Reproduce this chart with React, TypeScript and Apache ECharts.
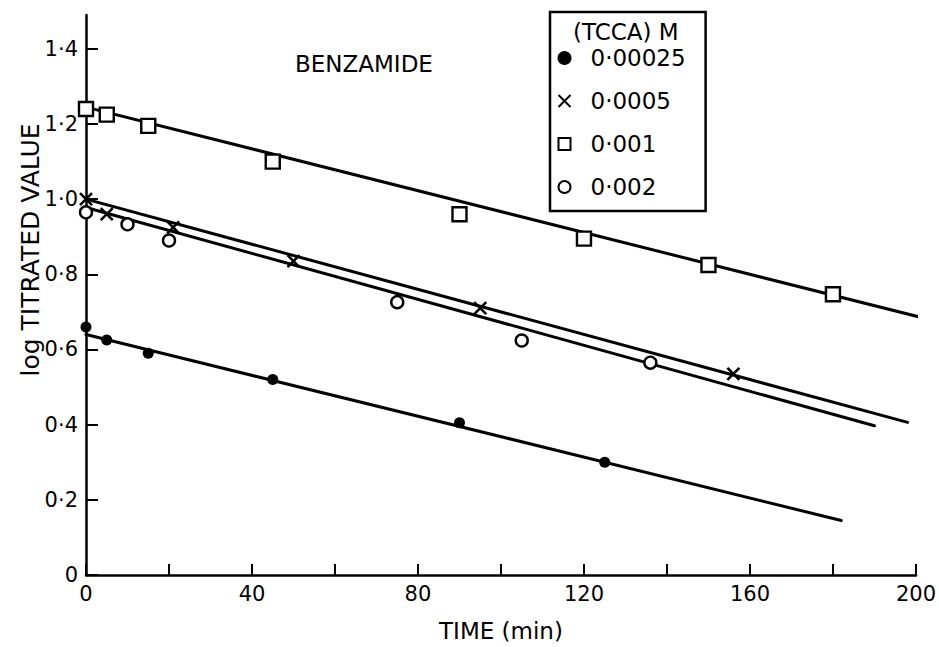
import React, { useEffect, useRef } from "react";
import * as echarts from "echarts";

// ---- data ----
const seriesNames = ["0·00025", "0·0005", "0·001", "0·002"];

const dotTimes = [0, 5, 15, 45, 90, 125];
const dotValues = [0.66, 0.625, 0.59, 0.52, 0.405, 0.3];

const crossTimes = [0, 5, 21, 50, 95, 156];
const crossValues = [1.0, 0.96, 0.925, 0.835, 0.71, 0.535];

const squareTimes = [0, 5, 15, 45, 90, 120, 150, 180];
const squareValues = [1.24, 1.225, 1.195, 1.1, 0.96, 0.895, 0.825, 0.747];

const circleTimes = [0, 10, 20, 75, 105, 136];
const circleValues = [0.965, 0.933, 0.89, 0.726, 0.624, 0.565];

// fitted straight lines: start at t = 0, end at fitEndTimes
const fitStartValues = [0.64, 1.0, 1.245, 0.978];
const fitEndTimes = [182, 198, 201, 190];
const fitEndValues = [0.145, 0.406, 0.686, 0.397];

const xTickValues = [0, 20, 40, 60, 80, 100, 120, 140, 160, 180, 200];
const xLabelValues = [0, 40, 80, 120, 160, 200];
const yTickValues = [0, 0.2, 0.4, 0.6, 0.8, 1.0, 1.2, 1.4];
const yTickLabels = ["0", "0·2", "0·4", "0·6", "0·8", "1·0", "1·2", "1·4"];

const FONT = "DejaVu Sans";

const pairs = (ts: number[], vs: number[]) => ts.map((t, i) => [t, vs[i]]);

export default function App() {
  const ref = useRef<HTMLDivElement>(null);

  useEffect(() => {
    if (!ref.current) return;
    const chart = echarts.init(ref.current, undefined, { renderer: "svg" });

    const crossPath = "path://M0,0L10,10M10,0L0,10";

    const scatterDefs = [
      { times: dotTimes, values: dotValues, symbol: "circle", size: 11, fill: "#000", bw: 0 },
      { times: crossTimes, values: crossValues, symbol: crossPath, size: 12, fill: "none", bw: 2.6 },
      { times: squareTimes, values: squareValues, symbol: "rect", size: 14, fill: "#fff", bw: 2.4 },
      { times: circleTimes, values: circleValues, symbol: "circle", size: 12, fill: "#fff", bw: 2.4 },
    ];

    const scatterSeries = scatterDefs.map((d, i) => ({
      type: "scatter",
      name: seriesNames[i],
      data: pairs(d.times, d.values),
      symbol: d.symbol,
      symbolSize: d.size,
      z: 5,
      itemStyle: {
        color: d.fill,
        borderColor: "#000",
        borderWidth: d.bw,
        opacity: 1,
      },
      emphasis: { disabled: true },
    }));

    const lineSeries = fitStartValues.map((s, i) => ({
      type: "line",
      name: "fit" + i,
      data: [
        [0, s],
        [fitEndTimes[i], fitEndValues[i]],
      ],
      symbol: "none",
      clip: false,
      silent: true,
      z: 3,
      lineStyle: { color: "#000", width: 3, cap: "round" },
      emphasis: { disabled: true },
    }));

    chart.setOption({
      animation: false,
      backgroundColor: "#fff",
      grid: { left: 86, right: 21, top: 15, bottom: 68, containLabel: false },
      xAxis: {
        type: "value",
        min: 0,
        max: 200,
        name: "TIME (min)",
        nameLocation: "middle",
        nameGap: 44,
        nameTextStyle: { fontFamily: FONT, fontSize: 23, color: "#000" },
        axisLine: { show: true, lineStyle: { color: "#000", width: 2.5 } },
        axisTick: {
          show: true,
          inside: true,
          length: 11,
          customValues: xTickValues,
          lineStyle: { color: "#000", width: 2 },
        },
        axisLabel: {
          customValues: xLabelValues,
          margin: 8,
          fontFamily: FONT,
          fontSize: 21,
          color: "#000",
        },
        splitLine: { show: false },
      },
      yAxis: {
        type: "value",
        min: 0,
        max: 1.49,
        axisLine: { show: true, lineStyle: { color: "#000", width: 2.5 } },
        axisTick: {
          show: true,
          inside: true,
          length: 12,
          customValues: yTickValues,
          lineStyle: { color: "#000", width: 2 },
        },
        axisLabel: {
          customValues: yTickValues,
          margin: 8,
          fontFamily: FONT,
          fontSize: 21,
          color: "#000",
          formatter: (v: number) => {
            const idx = yTickValues.findIndex((t) => Math.abs(t - v) < 1e-6);
            return idx >= 0 ? yTickLabels[idx] : "";
          },
        },
        splitLine: { show: false },
      },
      legend: {
        data: seriesNames,
        orient: "vertical",
        left: 550,
        top: 12,
        padding: [34, 20, 12, 6],
        itemWidth: 12,
        itemHeight: 12,
        itemGap: 19,
        borderColor: "#000",
        borderWidth: 2.5,
        selectedMode: false,
        itemStyle: { borderWidth: 2 },
        formatter: "{a|{name}}",
        textStyle: {
          fontFamily: FONT,
          fontSize: 23,
          color: "#000",
          lineHeight: 24,
          rich: {
            a: {
              fontFamily: FONT,
              fontSize: 23,
              color: "#000",
              lineHeight: 24,
              padding: [0, 0, 0, 15],
            },
          },
        },
      },
      graphic: [
        {
          type: "text",
          x: 573,
          y: 32,
          style: {
            text: "(TCCA) M",
            fontFamily: FONT,
            fontSize: 23,
            fill: "#000",
            textVerticalAlign: "middle",
          },
        },
        {
          type: "text",
          x: 295,
          y: 64,
          style: {
            text: "BENZAMIDE",
            fontFamily: FONT,
            fontSize: 23,
            fill: "#000",
            textVerticalAlign: "middle",
          },
        },
        {
          type: "text",
          x: 30,
          y: 250,
          rotation: Math.PI / 2,
          style: {
            text: "log TITRATED VALUE",
            fontFamily: FONT,
            fontSize: 25,
            fill: "#000",
            textAlign: "center",
            textVerticalAlign: "middle",
          },
        },
      ],
      series: [...lineSeries, ...scatterSeries],
    });

    return () => chart.dispose();
  }, []);

  return (
    <div
      ref={ref}
      style={{ position: "absolute", left: 0, top: 0, width: 939, height: 647 }}
    />
  );
}
